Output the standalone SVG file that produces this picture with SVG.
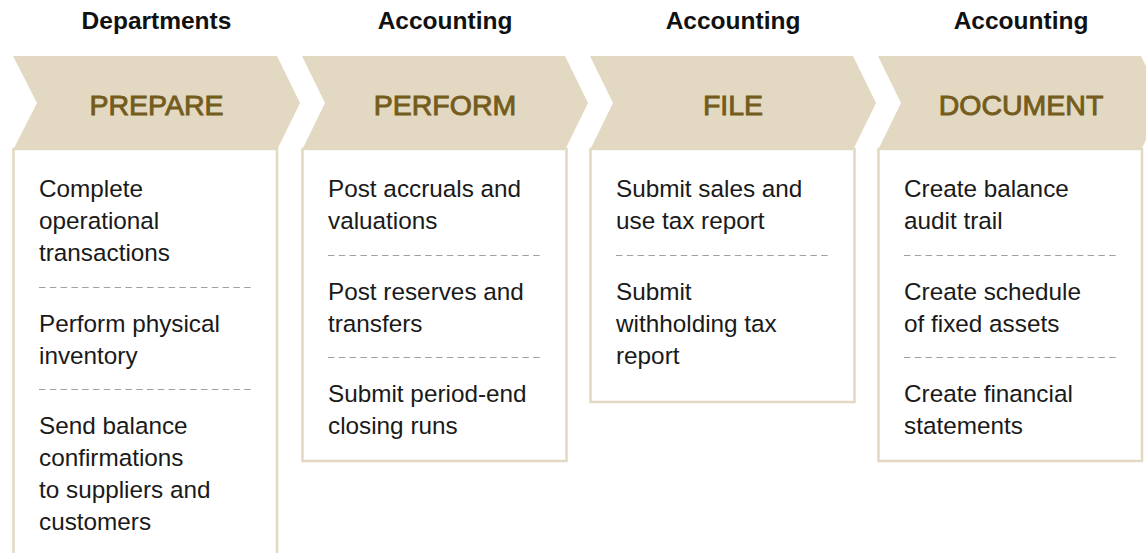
<svg xmlns="http://www.w3.org/2000/svg" width="1146" height="553" viewBox="0 0 1146 553">
<style>
.hdr{font-family:"Liberation Sans",Arial,sans-serif;font-size:24.5px;font-weight:bold;fill:#111;text-anchor:middle}
.chev{fill:#e3d9c2}
.ttl{font-family:"Liberation Sans",Arial,sans-serif;font-size:28.5px;fill:#745c1c;stroke:#745c1c;stroke-width:0.9;text-anchor:middle}
.box{fill:#fff;stroke:#e3d9c2;stroke-width:2.5}
.txt{font-family:"Liberation Sans",Arial,sans-serif;font-size:24.3px;fill:#1a1a1a}
.dash{stroke:#a0a0a0;stroke-width:1.2;stroke-dasharray:6.5 4.3;fill:none}
</style>
<rect width="1146" height="553" fill="#fff"/>
<g id="prepare">
<text class="hdr" x="156.5" y="29">Departments</text>
<rect class="box" x="13.5" y="149" width="263.5" height="430"/>
<polygon class="chev" points="13,56 277,56 300,103 277,150 13,150 37,103"/>
<text class="ttl" x="156.5" y="115">PREPARE</text>
<text class="txt" x="39" y="197">Complete</text>
<text class="txt" x="39" y="229">operational</text>
<text class="txt" x="39" y="261">transactions</text>
<line class="dash" x1="39" y1="287.5" x2="252" y2="287.5"/>
<text class="txt" x="39" y="332">Perform physical</text>
<text class="txt" x="39" y="364">inventory</text>
<line class="dash" x1="39" y1="389.5" x2="252" y2="389.5"/>
<text class="txt" x="39" y="434">Send balance</text>
<text class="txt" x="39" y="466">confirmations</text>
<text class="txt" x="39" y="498">to suppliers and</text>
<text class="txt" x="39" y="530">customers</text>
</g>
<g id="perform">
<text class="hdr" x="445" y="29">Accounting</text>
<rect class="box" x="302.5" y="149" width="264" height="312"/>
<polygon class="chev" points="302,56 565,56 588,103 565,150 302,150 325,103"/>
<text class="ttl" x="445" y="115">PERFORM</text>
<text class="txt" x="328" y="197">Post accruals and</text>
<text class="txt" x="328" y="229">valuations</text>
<line class="dash" x1="328" y1="255.5" x2="542" y2="255.5"/>
<text class="txt" x="328" y="300">Post reserves and</text>
<text class="txt" x="328" y="332">transfers</text>
<line class="dash" x1="328" y1="357.5" x2="542" y2="357.5"/>
<text class="txt" x="328" y="402">Submit period-end</text>
<text class="txt" x="328" y="434">closing runs</text>
</g>
<g id="file">
<text class="hdr" x="733" y="29">Accounting</text>
<rect class="box" x="590.5" y="149" width="264" height="253"/>
<polygon class="chev" points="590,56 853,56 876,103 853,150 590,150 613,103"/>
<text class="ttl" x="733" y="115">FILE</text>
<text class="txt" x="616" y="197">Submit sales and</text>
<text class="txt" x="616" y="229">use tax report</text>
<line class="dash" x1="616" y1="255.5" x2="830" y2="255.5"/>
<text class="txt" x="616" y="300">Submit</text>
<text class="txt" x="616" y="332">withholding tax</text>
<text class="txt" x="616" y="364">report</text>
</g>
<g id="document">
<text class="hdr" x="1021" y="29">Accounting</text>
<rect class="box" x="878.5" y="149" width="263.5" height="312"/>
<polygon class="chev" points="878,56 1141,56 1164,103 1141,150 878,150 901,103"/>
<text class="ttl" x="1021" y="115">DOCUMENT</text>
<text class="txt" x="904" y="197">Create balance</text>
<text class="txt" x="904" y="229">audit trail</text>
<line class="dash" x1="904" y1="255.5" x2="1118" y2="255.5"/>
<text class="txt" x="904" y="300">Create schedule</text>
<text class="txt" x="904" y="332">of fixed assets</text>
<line class="dash" x1="904" y1="357.5" x2="1118" y2="357.5"/>
<text class="txt" x="904" y="402">Create financial</text>
<text class="txt" x="904" y="434">statements</text>
</g>
<g id="connectors"></g>
</svg>
